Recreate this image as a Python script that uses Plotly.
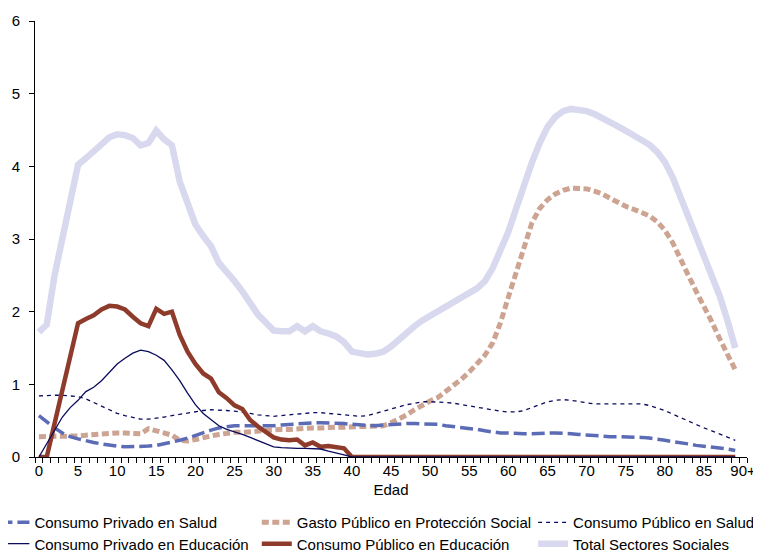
import plotly.graph_objects as go

edad = list(range(90))
tick_pos = [0, 5, 10, 15, 20, 25, 30, 35, 40, 45, 50, 55, 60, 65, 70, 75, 80, 85, 90]
tick_lbl = ["0", "5", "10", "15", "20", "25", "30", "35", "40", "45", "50", "55",
            "60", "65", "70", "75", "80", "85", "90+"]

privado_salud = [0.57, 0.48, 0.40, 0.33, 0.28, 0.25, 0.22, 0.20, 0.18, 0.16,
                 0.15, 0.14, 0.14, 0.14, 0.15, 0.16, 0.18, 0.20, 0.23, 0.26,
                 0.30, 0.34, 0.37, 0.40, 0.42, 0.43, 0.43, 0.43, 0.42, 0.42,
                 0.43, 0.44, 0.45, 0.46, 0.47, 0.47, 0.47, 0.47, 0.46, 0.46,
                 0.45, 0.44, 0.44, 0.43, 0.44, 0.45, 0.45, 0.46, 0.46, 0.46,
                 0.46, 0.45, 0.43, 0.42, 0.40, 0.39, 0.38, 0.36, 0.34, 0.33,
                 0.33, 0.32, 0.32, 0.32, 0.33, 0.33, 0.33, 0.33, 0.32, 0.31,
                 0.30, 0.30, 0.29, 0.28, 0.28, 0.28, 0.27, 0.27, 0.26, 0.25,
                 0.23, 0.21, 0.20, 0.18, 0.16, 0.15, 0.14, 0.13, 0.11, 0.09]

proteccion = [0.28, 0.28, 0.28, 0.29, 0.29, 0.29, 0.30, 0.31, 0.32, 0.32,
              0.33, 0.33, 0.33, 0.32, 0.39, 0.36, 0.34, 0.30, 0.23, 0.22,
              0.24, 0.27, 0.29, 0.31, 0.33, 0.34, 0.34, 0.35, 0.36, 0.36,
              0.37, 0.38, 0.38, 0.39, 0.39, 0.40, 0.40, 0.41, 0.41, 0.41,
              0.42, 0.42, 0.42, 0.42, 0.43, 0.47, 0.52, 0.58, 0.65, 0.72,
              0.77, 0.82, 0.90, 0.98, 1.07, 1.17, 1.28, 1.40, 1.57, 1.85,
              2.20, 2.55, 2.90, 3.22, 3.42, 3.54, 3.62, 3.67, 3.70, 3.70,
              3.69, 3.66, 3.62, 3.56, 3.50, 3.45, 3.41, 3.37, 3.32, 3.24,
              3.12, 2.95, 2.74, 2.50, 2.28, 2.08, 1.86, 1.63, 1.40, 1.20]

publico_salud = [0.84, 0.85, 0.85, 0.85, 0.84, 0.83, 0.80, 0.75, 0.70, 0.65,
                 0.60, 0.57, 0.54, 0.52, 0.52, 0.53, 0.55, 0.57, 0.59, 0.61,
                 0.63, 0.64, 0.65, 0.65, 0.64, 0.63, 0.62, 0.60, 0.58, 0.57,
                 0.56, 0.57, 0.58, 0.60, 0.61, 0.61, 0.61, 0.60, 0.58, 0.57,
                 0.56, 0.56, 0.57, 0.60, 0.63, 0.66, 0.70, 0.72, 0.74, 0.76,
                 0.76, 0.76, 0.75, 0.74, 0.72, 0.71, 0.69, 0.67, 0.65, 0.63,
                 0.62, 0.62, 0.64, 0.68, 0.73, 0.76, 0.78, 0.79, 0.78, 0.76,
                 0.74, 0.73, 0.73, 0.73, 0.73, 0.73, 0.73, 0.73, 0.71, 0.68,
                 0.64, 0.59, 0.54, 0.50, 0.45, 0.40, 0.36, 0.32, 0.27, 0.23]

privado_educ = [0.00, 0.18, 0.36, 0.55, 0.68, 0.78, 0.90, 0.96, 1.05, 1.17,
                1.28, 1.36, 1.43, 1.47, 1.45, 1.40, 1.33, 1.20, 1.05, 0.88,
                0.72, 0.60, 0.52, 0.43, 0.38, 0.35, 0.31, 0.27, 0.23, 0.19,
                0.14, 0.13, 0.12, 0.12, 0.12, 0.12, 0.11, 0.08, 0.06, 0.03] + [0.0] * 50

publico_educ = [0.00, 0.00, 0.46, 0.92, 1.42, 1.84, 1.90, 1.95, 2.03, 2.08,
                2.07, 2.03, 1.93, 1.84, 1.80, 2.04, 1.97, 2.00, 1.68, 1.45,
                1.28, 1.15, 1.08, 0.89, 0.81, 0.71, 0.66, 0.51, 0.42, 0.35,
                0.27, 0.24, 0.23, 0.24, 0.16, 0.20, 0.14, 0.15, 0.13, 0.12] + [0.0] * 50

total = [1.72, 1.82, 2.50, 3.00, 3.55, 4.02, 4.11, 4.20, 4.30, 4.40,
         4.44, 4.43, 4.39, 4.29, 4.32, 4.49, 4.37, 4.29, 3.79, 3.47,
         3.20, 3.04, 2.90, 2.67, 2.56, 2.42, 2.28, 2.10, 1.96, 1.85,
         1.74, 1.73, 1.73, 1.80, 1.73, 1.80, 1.73, 1.70, 1.66, 1.58,
         1.45, 1.43, 1.41, 1.42, 1.45, 1.52, 1.62, 1.72, 1.80, 1.88,
         1.94, 2.00, 2.06, 2.12, 2.18, 2.25, 2.32, 2.42, 2.60, 2.85,
         3.10, 3.42, 3.75, 4.05, 4.32, 4.54, 4.68, 4.76, 4.79, 4.78,
         4.76, 4.72, 4.67, 4.60, 4.55, 4.49, 4.43, 4.38, 4.30, 4.20,
         4.06, 3.85, 3.58, 3.32, 3.05, 2.80, 2.52, 2.22, 1.88, 1.50]

FONT = "Liberation Sans, Arial, sans-serif"

# name, values, colour, width, dash, legend id
series = [
    ("Consumo Privado en Salud", privado_salud, "#5B6BB5", 3.5, "13px,5px", "legend"),
    ("Gasto Público en Protección Social", proteccion, "#CDA392", 5, "7px,3.5px", "legend2"),
    ("Consumo Público en Salud", publico_salud, "#0B0B5C", 1.3, "4px,4px", "legend3"),
    ("Consumo Privado en Educación", privado_educ, "#0B0B5C", 1.3, "solid", "legend4"),
    ("Consumo Público en Educación", publico_educ, "#8E3B2C", 4.5, "solid", "legend5"),
    ("Total Sectores Sociales", total, "#D8D9EE", 6.5, "solid", "legend6"),
]

# draw order: Total behind
order = [5, 1, 0, 2, 4, 3]
fig = go.Figure()
for k in order:
    name, vals, col, w, dash, lg = series[k]
    fig.add_trace(go.Scatter(
        x=edad, y=vals, name=name, mode="lines",
        line=dict(color=col, width=w, dash=dash),
        legend=lg, showlegend=True,
    ))

legend_common = dict(orientation="v", yanchor="top", xanchor="left",
                     font=dict(family=FONT, size=15, color="black"),
                     bgcolor="rgba(0,0,0,0)")

# page body has an 8px default margin, so the figure is 8px smaller
ROW1 = -0.1125
ROW2 = -0.1615
COL1, COL2, COL3 = -0.057, 0.3115, 0.6996
fig.update_layout(
    width=753, height=544,
    showlegend=True,
    margin=dict(l=27, r=14, t=13, b=95, autoexpand=False),
    paper_bgcolor="white", plot_bgcolor="white",
    font=dict(family=FONT, size=15, color="black"),
    legend=dict(x=COL1, y=ROW1, **legend_common),
    legend2=dict(x=COL2, y=ROW1, **legend_common),
    legend3=dict(x=COL3, y=ROW1, **legend_common),
    legend4=dict(x=COL1, y=ROW2, **legend_common),
    legend5=dict(x=COL2, y=ROW2, **legend_common),
    legend6=dict(x=COL3, y=ROW2, **legend_common),
    xaxis=dict(
        range=[-0.5, 90.5], showgrid=False, zeroline=False, automargin=False,
        showline=True, linecolor="black", linewidth=1,
        tickmode="array", tickvals=tick_pos, ticktext=tick_lbl, ticks="",
        tickfont=dict(family=FONT, size=15, color="black"),
        minor=dict(tickmode="array", tickvals=[i - 0.5 for i in range(92)],
                   ticks="outside", ticklen=5, tickcolor="black", tickwidth=1),
        title=dict(text="Edad", font=dict(family=FONT, size=15, color="black"), standoff=6),
    ),
    yaxis=dict(
        range=[0, 6], showgrid=False, zeroline=False, automargin=False,
        showline=True, linecolor="black", linewidth=1,
        tickmode="array", tickvals=[0, 1, 2, 3, 4, 5, 6],
        ticks="outside", ticklen=5, tickcolor="black",
        ticklabelstandoff=6,
        tickfont=dict(family=FONT, size=15, color="black"),
    ),
)

fig.write_html("out.html")
